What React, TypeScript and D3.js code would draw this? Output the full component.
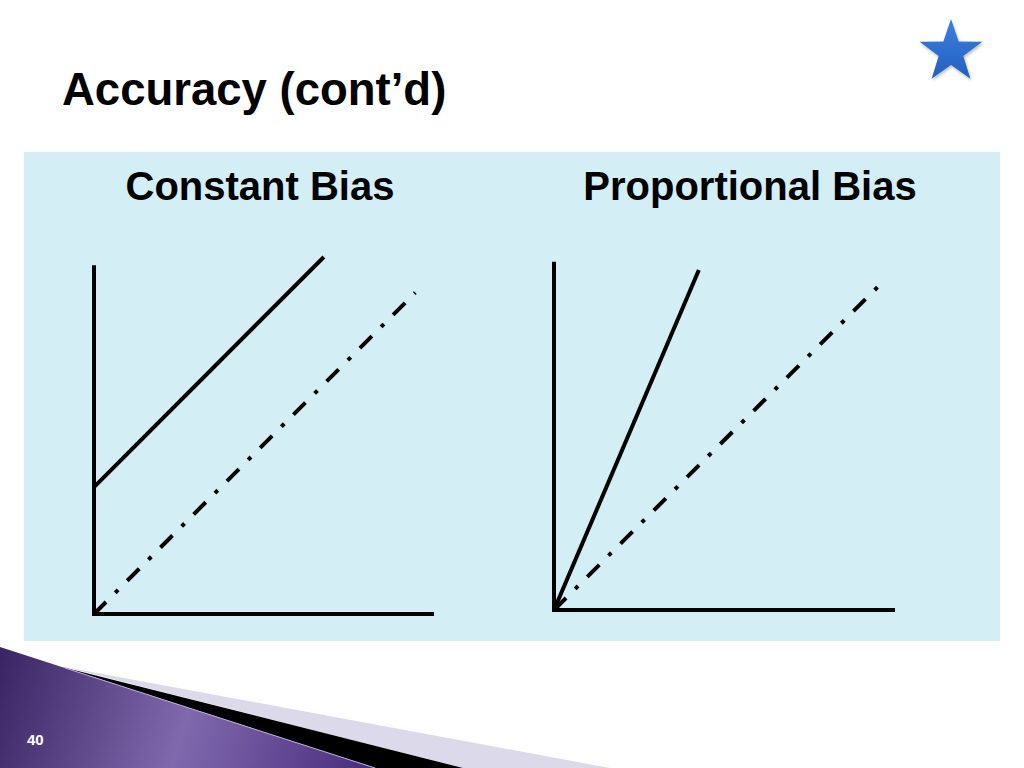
import React from "react";
import * as d3 from "d3";

const titleText = "Accuracy (cont’d)";
const panelTitles = ["Constant Bias", "Proportional Bias"];
const pageNumber = "40";

// Each panel: axis extents and two lines in data units (same px/unit on both axes)
const axisMax = [
  { x: 10.0, y: 10.26 },
  { x: 10.03, y: 10.24 },
];
const biasLines = [
  [
    { x: 0, y: 3.73 },
    { x: 6.76, y: 10.5 },
  ],
  [
    { x: 0, y: 0 },
    { x: 4.26, y: 10.0 },
  ],
];
const identityLines = [
  [
    { x: 0, y: 0 },
    { x: 9.45, y: 9.45 },
  ],
  [
    { x: 0, y: 0 },
    { x: 9.52, y: 9.5 },
  ],
];

const W = 1024;
const H = 768;
const unit = 34;
const origins = [
  { x: 94, y: 614 },
  { x: 554, y: 610 },
];
const titleCenters = [260, 750];

function starPoints(cx: number, cy: number, R: number, r: number) {
  const pts: [number, number][] = [];
  for (let i = 0; i < 10; i++) {
    const a = -Math.PI / 2 + (i * Math.PI) / 5;
    const rad = i % 2 === 0 ? R : r;
    pts.push([cx + rad * Math.cos(a), cy + rad * Math.sin(a)]);
  }
  return pts.map((p) => p.join(",")).join(" ");
}

function Panel({ i }: { i: number }) {
  const o = origins[i];
  const xs = d3.scaleLinear().domain([0, 10]).range([o.x, o.x + 10 * unit]);
  const ys = d3.scaleLinear().domain([0, 10]).range([o.y, o.y - 10 * unit]);
  const line = d3
    .line<{ x: number; y: number }>()
    .x((d) => xs(d.x))
    .y((d) => ys(d.y));
  const m = axisMax[i];
  return (
    <g>
      <text
        x={titleCenters[i]}
        y={200}
        textAnchor="middle"
        fontFamily="'Liberation Sans', Arial, sans-serif"
        fontWeight="bold"
        fontSize={40}
        fill="#000"
      >
        {panelTitles[i]}
      </text>
      <path
        d={line(identityLines[i]) || ""}
        stroke="#000"
        strokeWidth={4}
        fill="none"
        strokeDasharray="17 13 4 13"
      />
      <path d={line(biasLines[i]) || ""} stroke="#000" strokeWidth={4} fill="none" />
      <line x1={xs(0)} y1={ys(0) + 2} x2={xs(0)} y2={ys(m.y)} stroke="#000" strokeWidth={4} />
      <line x1={xs(0) - 2} y1={ys(0)} x2={xs(m.x)} y2={ys(0)} stroke="#000" strokeWidth={4} />
    </g>
  );
}

export default function App() {
  return (
    <svg
      width={W}
      height={H}
      style={{ position: "absolute", left: 0, top: 0, display: "block" }}
    >
      <defs>
        <linearGradient id="purp" gradientUnits="userSpaceOnUse" x1="0" y1="650" x2="380" y2="768">
          <stop offset="0" stopColor="#3b2463" />
          <stop offset="0.5" stopColor="#8069ad" />
          <stop offset="0.8" stopColor="#5e4391" />
          <stop offset="1" stopColor="#452a78" />
        </linearGradient>
        <linearGradient id="starG" x1="0" y1="0" x2="0" y2="1">
          <stop offset="0" stopColor="#3a7fe0" />
          <stop offset="1" stopColor="#2460bf" />
        </linearGradient>
        <filter id="sh" x="-20%" y="-20%" width="140%" height="140%">
          <feDropShadow dx="1" dy="2" stdDeviation="1.5" floodColor="#000" floodOpacity="0.25" />
        </filter>
      </defs>
      <rect x={0} y={0} width={W} height={H} fill="#fff" />
      <text
        x={62}
        y={105}
        fontFamily="'Liberation Sans', Arial, sans-serif"
        fontWeight="bold"
        fontSize={45.5}
        fill="#000"
      >
        {titleText}
      </text>
      <polygon points={starPoints(951, 52, 33, 13)} fill="url(#starG)" filter="url(#sh)" />
      <rect x={24} y={152} width={976} height={489} fill="#d3eef4" />
      <Panel i={0} />
      <Panel i={1} />
      {/* bottom decoration */}
      <polygon points="65,667 610,768 463,768" fill="#dcdaea" />
      <polygon points="62,667 463,768 375,768" fill="#000" />
      <polygon points="0,647 65,668 375,768 0,768" fill="url(#purp)" />
      <line x1={65} y1={668} x2={375} y2={768} stroke="#b9abd6" strokeWidth={1} />
      <text
        x={27}
        y={745}
        fontFamily="'Liberation Sans', Arial, sans-serif"
        fontWeight="bold"
        fontSize={15}
        fill="#fff"
      >
        {pageNumber}
      </text>
    </svg>
  );
}
